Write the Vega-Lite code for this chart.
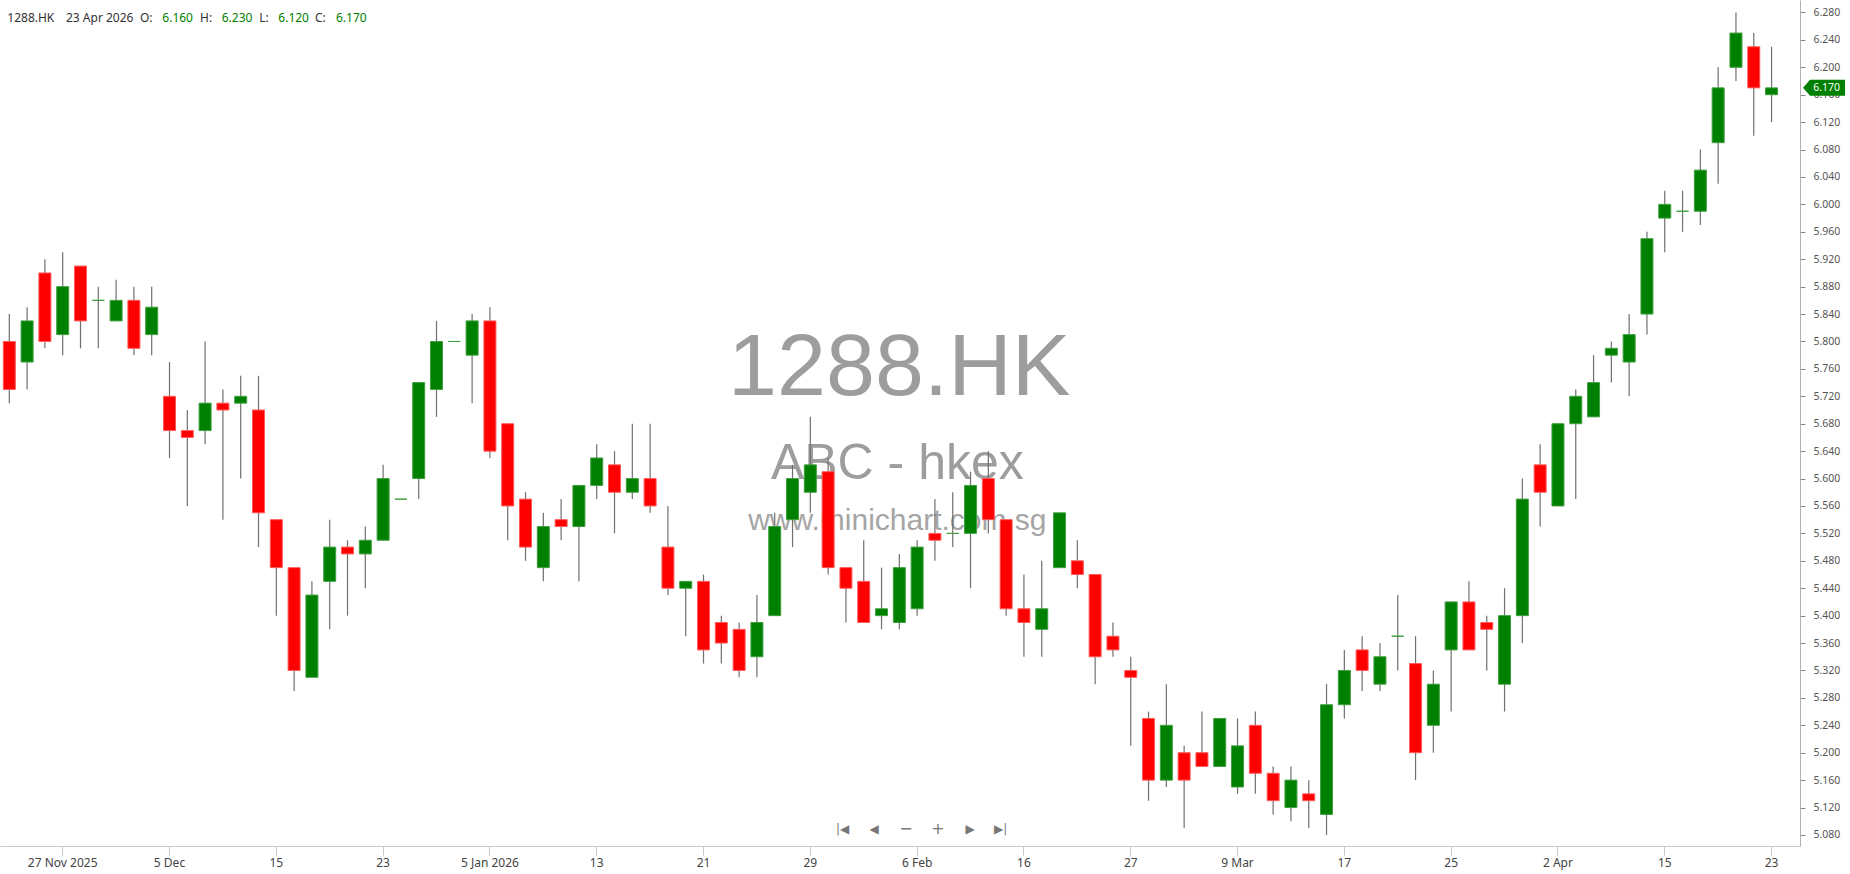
{
  "$schema": "https://vega.github.io/schema/vega-lite/v6.json",
  "width": 1800,
  "height": 846,
  "autosize": {"type": "none"},
  "padding": {"left": 0, "top": 0, "right": 50, "bottom": 28},
  "background": "white",
  "config": {
    "view": {"stroke": null},
    "axis": {"labelOverlap": false, "grid": false, "title": null},
    "axisX": {"labelAlign": "center", "labelAngle": 0, "labelOverlap": false, "labelFlush": false, "labelBound": false},
    "axisY": {"labelAlign": "left", "labelOverlap": false, "labelFlush": false, "labelBound": false, "tickCount": 40}
  },
  "data": {"values": [
    {"d":"2025-11-24","o":5.80,"h":5.84,"l":5.71,"c":5.73},
    {"d":"2025-11-25","o":5.77,"h":5.85,"l":5.73,"c":5.83},
    {"d":"2025-11-26","o":5.90,"h":5.92,"l":5.79,"c":5.80},
    {"d":"2025-11-27","o":5.81,"h":5.93,"l":5.78,"c":5.88},
    {"d":"2025-11-28","o":5.91,"h":5.91,"l":5.79,"c":5.83},
    {"d":"2025-12-01","o":5.86,"h":5.88,"l":5.79,"c":5.86},
    {"d":"2025-12-02","o":5.83,"h":5.89,"l":5.83,"c":5.86},
    {"d":"2025-12-03","o":5.86,"h":5.88,"l":5.78,"c":5.79},
    {"d":"2025-12-04","o":5.81,"h":5.88,"l":5.78,"c":5.85},
    {"d":"2025-12-05","o":5.72,"h":5.77,"l":5.63,"c":5.67},
    {"d":"2025-12-08","o":5.67,"h":5.70,"l":5.56,"c":5.66},
    {"d":"2025-12-09","o":5.67,"h":5.80,"l":5.65,"c":5.71},
    {"d":"2025-12-10","o":5.71,"h":5.73,"l":5.54,"c":5.70},
    {"d":"2025-12-11","o":5.71,"h":5.75,"l":5.60,"c":5.72},
    {"d":"2025-12-12","o":5.70,"h":5.75,"l":5.50,"c":5.55},
    {"d":"2025-12-15","o":5.54,"h":5.54,"l":5.40,"c":5.47},
    {"d":"2025-12-16","o":5.47,"h":5.47,"l":5.29,"c":5.32},
    {"d":"2025-12-17","o":5.31,"h":5.45,"l":5.31,"c":5.43},
    {"d":"2025-12-18","o":5.45,"h":5.54,"l":5.38,"c":5.50},
    {"d":"2025-12-19","o":5.50,"h":5.51,"l":5.40,"c":5.49},
    {"d":"2025-12-22","o":5.49,"h":5.53,"l":5.44,"c":5.51},
    {"d":"2025-12-23","o":5.51,"h":5.62,"l":5.51,"c":5.60},
    {"d":"2025-12-24","o":5.57,"h":5.57,"l":5.57,"c":5.57},
    {"d":"2025-12-29","o":5.60,"h":5.74,"l":5.57,"c":5.74},
    {"d":"2025-12-30","o":5.73,"h":5.83,"l":5.69,"c":5.80},
    {"d":"2025-12-31","o":5.80,"h":5.80,"l":5.80,"c":5.80},
    {"d":"2026-01-02","o":5.78,"h":5.84,"l":5.71,"c":5.83},
    {"d":"2026-01-05","o":5.83,"h":5.85,"l":5.63,"c":5.64},
    {"d":"2026-01-06","o":5.68,"h":5.68,"l":5.51,"c":5.56},
    {"d":"2026-01-07","o":5.57,"h":5.58,"l":5.48,"c":5.50},
    {"d":"2026-01-08","o":5.47,"h":5.55,"l":5.45,"c":5.53},
    {"d":"2026-01-09","o":5.54,"h":5.57,"l":5.51,"c":5.53},
    {"d":"2026-01-12","o":5.53,"h":5.59,"l":5.45,"c":5.59},
    {"d":"2026-01-13","o":5.59,"h":5.65,"l":5.57,"c":5.63},
    {"d":"2026-01-14","o":5.62,"h":5.64,"l":5.52,"c":5.58},
    {"d":"2026-01-15","o":5.58,"h":5.68,"l":5.57,"c":5.60},
    {"d":"2026-01-16","o":5.60,"h":5.68,"l":5.55,"c":5.56},
    {"d":"2026-01-19","o":5.50,"h":5.56,"l":5.43,"c":5.44},
    {"d":"2026-01-20","o":5.44,"h":5.45,"l":5.37,"c":5.45},
    {"d":"2026-01-21","o":5.45,"h":5.46,"l":5.33,"c":5.35},
    {"d":"2026-01-22","o":5.39,"h":5.40,"l":5.33,"c":5.36},
    {"d":"2026-01-23","o":5.38,"h":5.39,"l":5.31,"c":5.32},
    {"d":"2026-01-26","o":5.34,"h":5.43,"l":5.31,"c":5.39},
    {"d":"2026-01-27","o":5.40,"h":5.55,"l":5.40,"c":5.53},
    {"d":"2026-01-28","o":5.54,"h":5.62,"l":5.50,"c":5.60},
    {"d":"2026-01-29","o":5.58,"h":5.69,"l":5.55,"c":5.62},
    {"d":"2026-01-30","o":5.61,"h":5.63,"l":5.46,"c":5.47},
    {"d":"2026-02-02","o":5.47,"h":5.47,"l":5.39,"c":5.44},
    {"d":"2026-02-03","o":5.45,"h":5.51,"l":5.39,"c":5.39},
    {"d":"2026-02-04","o":5.40,"h":5.47,"l":5.38,"c":5.41},
    {"d":"2026-02-05","o":5.39,"h":5.49,"l":5.38,"c":5.47},
    {"d":"2026-02-06","o":5.41,"h":5.51,"l":5.40,"c":5.50},
    {"d":"2026-02-09","o":5.52,"h":5.57,"l":5.48,"c":5.51},
    {"d":"2026-02-10","o":5.52,"h":5.58,"l":5.50,"c":5.52},
    {"d":"2026-02-11","o":5.52,"h":5.61,"l":5.44,"c":5.59},
    {"d":"2026-02-12","o":5.60,"h":5.64,"l":5.52,"c":5.54},
    {"d":"2026-02-13","o":5.54,"h":5.54,"l":5.40,"c":5.41},
    {"d":"2026-02-16","o":5.41,"h":5.46,"l":5.34,"c":5.39},
    {"d":"2026-02-20","o":5.38,"h":5.48,"l":5.34,"c":5.41},
    {"d":"2026-02-23","o":5.47,"h":5.55,"l":5.47,"c":5.55},
    {"d":"2026-02-24","o":5.48,"h":5.51,"l":5.44,"c":5.46},
    {"d":"2026-02-25","o":5.46,"h":5.46,"l":5.30,"c":5.34},
    {"d":"2026-02-26","o":5.37,"h":5.39,"l":5.34,"c":5.35},
    {"d":"2026-02-27","o":5.32,"h":5.34,"l":5.21,"c":5.31},
    {"d":"2026-03-02","o":5.25,"h":5.26,"l":5.13,"c":5.16},
    {"d":"2026-03-03","o":5.16,"h":5.30,"l":5.15,"c":5.24},
    {"d":"2026-03-04","o":5.20,"h":5.21,"l":5.09,"c":5.16},
    {"d":"2026-03-05","o":5.20,"h":5.26,"l":5.18,"c":5.18},
    {"d":"2026-03-06","o":5.18,"h":5.25,"l":5.18,"c":5.25},
    {"d":"2026-03-09","o":5.15,"h":5.25,"l":5.14,"c":5.21},
    {"d":"2026-03-10","o":5.24,"h":5.26,"l":5.14,"c":5.17},
    {"d":"2026-03-11","o":5.17,"h":5.18,"l":5.11,"c":5.13},
    {"d":"2026-03-12","o":5.12,"h":5.18,"l":5.10,"c":5.16},
    {"d":"2026-03-13","o":5.14,"h":5.16,"l":5.09,"c":5.13},
    {"d":"2026-03-16","o":5.11,"h":5.30,"l":5.08,"c":5.27},
    {"d":"2026-03-17","o":5.27,"h":5.35,"l":5.25,"c":5.32},
    {"d":"2026-03-18","o":5.35,"h":5.37,"l":5.29,"c":5.32},
    {"d":"2026-03-19","o":5.30,"h":5.36,"l":5.29,"c":5.34},
    {"d":"2026-03-20","o":5.37,"h":5.43,"l":5.32,"c":5.37},
    {"d":"2026-03-23","o":5.33,"h":5.37,"l":5.16,"c":5.20},
    {"d":"2026-03-24","o":5.24,"h":5.32,"l":5.20,"c":5.30},
    {"d":"2026-03-25","o":5.35,"h":5.42,"l":5.26,"c":5.42},
    {"d":"2026-03-26","o":5.42,"h":5.45,"l":5.35,"c":5.35},
    {"d":"2026-03-27","o":5.39,"h":5.40,"l":5.32,"c":5.38},
    {"d":"2026-03-30","o":5.30,"h":5.44,"l":5.26,"c":5.40},
    {"d":"2026-03-31","o":5.40,"h":5.60,"l":5.36,"c":5.57},
    {"d":"2026-04-01","o":5.62,"h":5.65,"l":5.53,"c":5.58},
    {"d":"2026-04-02","o":5.56,"h":5.68,"l":5.56,"c":5.68},
    {"d":"2026-04-08","o":5.68,"h":5.73,"l":5.57,"c":5.72},
    {"d":"2026-04-09","o":5.69,"h":5.78,"l":5.69,"c":5.74},
    {"d":"2026-04-10","o":5.78,"h":5.80,"l":5.74,"c":5.79},
    {"d":"2026-04-13","o":5.77,"h":5.84,"l":5.72,"c":5.81},
    {"d":"2026-04-14","o":5.84,"h":5.96,"l":5.81,"c":5.95},
    {"d":"2026-04-15","o":5.98,"h":6.02,"l":5.93,"c":6.00},
    {"d":"2026-04-16","o":5.99,"h":6.02,"l":5.96,"c":5.99},
    {"d":"2026-04-17","o":5.99,"h":6.08,"l":5.97,"c":6.05},
    {"d":"2026-04-20","o":6.09,"h":6.20,"l":6.03,"c":6.17},
    {"d":"2026-04-21","o":6.20,"h":6.28,"l":6.18,"c":6.25},
    {"d":"2026-04-22","o":6.23,"h":6.25,"l":6.10,"c":6.17},
    {"d":"2026-04-23","o":6.16,"h":6.23,"l":6.12,"c":6.17}
  ]},
  "layer": [
    {
      "data": {"values": [{}]},
      "mark": {"type": "text", "text": "1288.HK", "align": "center", "baseline": "alphabetic", "font": "Liberation Sans", "fontSize": 88, "color": "#9d9d9d"},
      "encoding": {"x": {"datum": "2026-02-05", "type": "ordinal"}, "y": {"datum": 5.722, "type": "quantitative"}}
    },
    {
      "data": {"values": [{}]},
      "mark": {"type": "text", "text": "ABC - hkex", "align": "center", "baseline": "alphabetic", "dx": -2, "font": "Liberation Sans", "fontSize": 50, "color": "#9d9d9d"},
      "encoding": {"x": {"datum": "2026-02-05", "type": "ordinal"}, "y": {"datum": 5.5994, "type": "quantitative"}}
    },
    {
      "data": {"values": [{}]},
      "mark": {"type": "text", "text": "www.minichart.com.sg", "align": "center", "baseline": "alphabetic", "dx": -2, "font": "Liberation Sans", "fontSize": 30, "color": "#a5a5a5"},
      "encoding": {"x": {"datum": "2026-02-05", "type": "ordinal"}, "y": {"datum": 5.525, "type": "quantitative"}}
    },
    {
      "mark": {"type": "rule", "color": "#707070", "strokeWidth": 1.2},
      "encoding": {
        "x": {
          "field": "d", "type": "ordinal",
          "scale": {"type": "band", "paddingInner": 0, "paddingOuter": 0.56, "align": 0.02},
          "axis": {
            "orient": "bottom", "title": null, "labelAngle": 0, "labelAlign": "center", "labelOverlap": false,
            "values": ["2025-11-27","2025-12-05","2025-12-15","2025-12-23","2026-01-05","2026-01-13","2026-01-21","2026-01-29","2026-02-06","2026-02-16","2026-02-27","2026-03-09","2026-03-17","2026-03-25","2026-04-02","2026-04-15","2026-04-23"],
            "labelExpr": "datum.value=='2025-11-27'?'27 Nov 2025':datum.value=='2025-12-05'?'5 Dec':datum.value=='2025-12-15'?'15':datum.value=='2025-12-23'?'23':datum.value=='2026-01-05'?'5 Jan 2026':datum.value=='2026-01-13'?'13':datum.value=='2026-01-21'?'21':datum.value=='2026-01-29'?'29':datum.value=='2026-02-06'?'6 Feb':datum.value=='2026-02-16'?'16':datum.value=='2026-02-27'?'27':datum.value=='2026-03-09'?'9 Mar':datum.value=='2026-03-17'?'17':datum.value=='2026-03-25'?'25':datum.value=='2026-04-02'?'2 Apr':datum.value=='2026-04-15'?'15':datum.value=='2026-04-23'?'23':''",
            "domainColor": "#c8c8c8", "tickColor": "#c8c8c8", "tickSize": 9, "labelPadding": 2,
            "labelFont": "Noto Sans", "labelFontSize": 12, "labelColor": "#444444", "grid": false
          }
        },
        "y": {
          "field": "l", "type": "quantitative",
          "scale": {"domain": [5.0639, 6.2982], "nice": false, "zero": false},
          "axis": {
            "orient": "right", "title": null, "grid": false, "labelOverlap": false, "tickCount": 40,
            "values": [5.08,5.12,5.16,5.2,5.24,5.28,5.32,5.36,5.4,5.44,5.48,5.52,5.56,5.6,5.64,5.68,5.72,5.76,5.8,5.84,5.88,5.92,5.96,6.0,6.04,6.08,6.12,6.16,6.2,6.24,6.28],
            "format": ".3f", "domainColor": "#b0b0b0", "tickColor": "#888888", "tickSize": 5, "labelPadding": 8,
            "labelFont": "Noto Sans", "labelFontSize": 10.5, "labelColor": "#555555"
          }
        },
        "y2": {"field": "h"}
      }
    },
    {
      "mark": {"type": "bar", "size": 12, "strokeWidth": 1},
      "encoding": {
        "x": {"field": "d", "type": "ordinal"},
        "y": {"field": "o", "type": "quantitative"},
        "y2": {"field": "c"},
        "fill": {"condition": {"test": "datum.c < datum.o", "value": "#ff0000"}, "value": "#008000"},
        "stroke": {"condition": {"test": "datum.c < datum.o", "value": "#ff5a5a"}, "value": "#3f9f3f"}
      }
    },
    {
      "data": {"values": [{}]},
      "mark": {"type": "point", "shape": "M 1.5 0 L 1.833 -0.381 L 3.5 -0.381 L 3.5 0.381 L 1.833 0.381 Z", "size": 1764, "filled": true, "fill": "#008000", "opacity": 1, "strokeWidth": 0},
      "encoding": {"x": {"datum": "2026-04-23", "type": "ordinal"}, "y": {"datum": 6.17, "type": "quantitative"}}
    },
    {
      "data": {"values": [{}]},
      "mark": {"type": "text", "text": "6.170", "align": "center", "baseline": "middle", "dx": 55, "font": "Noto Sans", "fontSize": 10.5, "color": "white"},
      "encoding": {"x": {"datum": "2026-04-23", "type": "ordinal"}, "y": {"datum": 6.17, "type": "quantitative"}}
    },
    {
      "data": {"values": [{}]},
      "mark": {"type": "text", "text": "1288.HK", "align": "left", "baseline": "middle", "dx": -2, "font": "Noto Sans", "fontSize": 12, "color": "#333333"},
      "encoding": {"x": {"datum": "2025-11-24", "type": "ordinal"}, "y": {"datum": 6.272, "type": "quantitative"}}
    },
    {
      "data": {"values": [{}]},
      "mark": {"type": "text", "text": "23 Apr 2026", "align": "left", "baseline": "middle", "dx": 56.7, "font": "Noto Sans", "fontSize": 12, "color": "#333333"},
      "encoding": {"x": {"datum": "2025-11-24", "type": "ordinal"}, "y": {"datum": 6.272, "type": "quantitative"}}
    },
    {
      "data": {"values": [{}]},
      "mark": {"type": "text", "text": "O:", "align": "left", "baseline": "middle", "dx": 130.7, "font": "Noto Sans", "fontSize": 12, "color": "#333333"},
      "encoding": {"x": {"datum": "2025-11-24", "type": "ordinal"}, "y": {"datum": 6.272, "type": "quantitative"}}
    },
    {
      "data": {"values": [{}]},
      "mark": {"type": "text", "text": "6.160", "align": "left", "baseline": "middle", "dx": 153, "font": "Noto Sans", "fontSize": 12, "color": "#008000"},
      "encoding": {"x": {"datum": "2025-11-24", "type": "ordinal"}, "y": {"datum": 6.272, "type": "quantitative"}}
    },
    {
      "data": {"values": [{}]},
      "mark": {"type": "text", "text": "H:", "align": "left", "baseline": "middle", "dx": 190.7, "font": "Noto Sans", "fontSize": 12, "color": "#333333"},
      "encoding": {"x": {"datum": "2025-11-24", "type": "ordinal"}, "y": {"datum": 6.272, "type": "quantitative"}}
    },
    {
      "data": {"values": [{}]},
      "mark": {"type": "text", "text": "6.230", "align": "left", "baseline": "middle", "dx": 212.4, "font": "Noto Sans", "fontSize": 12, "color": "#008000"},
      "encoding": {"x": {"datum": "2025-11-24", "type": "ordinal"}, "y": {"datum": 6.272, "type": "quantitative"}}
    },
    {
      "data": {"values": [{}]},
      "mark": {"type": "text", "text": "L:", "align": "left", "baseline": "middle", "dx": 250, "font": "Noto Sans", "fontSize": 12, "color": "#333333"},
      "encoding": {"x": {"datum": "2025-11-24", "type": "ordinal"}, "y": {"datum": 6.272, "type": "quantitative"}}
    },
    {
      "data": {"values": [{}]},
      "mark": {"type": "text", "text": "6.120", "align": "left", "baseline": "middle", "dx": 269, "font": "Noto Sans", "fontSize": 12, "color": "#008000"},
      "encoding": {"x": {"datum": "2025-11-24", "type": "ordinal"}, "y": {"datum": 6.272, "type": "quantitative"}}
    },
    {
      "data": {"values": [{}]},
      "mark": {"type": "text", "text": "C:", "align": "left", "baseline": "middle", "dx": 305.7, "font": "Noto Sans", "fontSize": 12, "color": "#333333"},
      "encoding": {"x": {"datum": "2025-11-24", "type": "ordinal"}, "y": {"datum": 6.272, "type": "quantitative"}}
    },
    {
      "data": {"values": [{}]},
      "mark": {"type": "text", "text": "6.170", "align": "left", "baseline": "middle", "dx": 326.7, "font": "Noto Sans", "fontSize": 12, "color": "#008000"},
      "encoding": {"x": {"datum": "2025-11-24", "type": "ordinal"}, "y": {"datum": 6.272, "type": "quantitative"}}
    },
    {
      "data": {"values": [{}]},
      "mark": {"type": "text", "text": "|◀", "align": "center", "baseline": "middle", "dx": -3.4, "font": "DejaVu Sans", "fontSize": 12, "color": "#777777"},
      "encoding": {"x": {"datum": "2026-02-02", "type": "ordinal"}, "y": {"datum": 5.0887, "type": "quantitative"}}
    },
    {
      "data": {"values": [{}]},
      "mark": {"type": "text", "text": "◀", "align": "center", "baseline": "middle", "dx": 28.1, "font": "DejaVu Sans", "fontSize": 12, "color": "#777777"},
      "encoding": {"x": {"datum": "2026-02-02", "type": "ordinal"}, "y": {"datum": 5.0887, "type": "quantitative"}}
    },
    {
      "data": {"values": [{}]},
      "mark": {"type": "text", "text": "−", "align": "center", "baseline": "middle", "dx": 60.1, "font": "DejaVu Sans", "fontSize": 16, "color": "#777777"},
      "encoding": {"x": {"datum": "2026-02-02", "type": "ordinal"}, "y": {"datum": 5.0887, "type": "quantitative"}}
    },
    {
      "data": {"values": [{}]},
      "mark": {"type": "text", "text": "+", "align": "center", "baseline": "middle", "dx": 92.1, "font": "DejaVu Sans", "fontSize": 16, "color": "#777777"},
      "encoding": {"x": {"datum": "2026-02-02", "type": "ordinal"}, "y": {"datum": 5.0887, "type": "quantitative"}}
    },
    {
      "data": {"values": [{}]},
      "mark": {"type": "text", "text": "▶", "align": "center", "baseline": "middle", "dx": 124.1, "font": "DejaVu Sans", "fontSize": 12, "color": "#777777"},
      "encoding": {"x": {"datum": "2026-02-02", "type": "ordinal"}, "y": {"datum": 5.0887, "type": "quantitative"}}
    },
    {
      "data": {"values": [{}]},
      "mark": {"type": "text", "text": "▶|", "align": "center", "baseline": "middle", "dx": 154.7, "font": "DejaVu Sans", "fontSize": 12, "color": "#777777"},
      "encoding": {"x": {"datum": "2026-02-02", "type": "ordinal"}, "y": {"datum": 5.0887, "type": "quantitative"}}
    }
  ]
}
